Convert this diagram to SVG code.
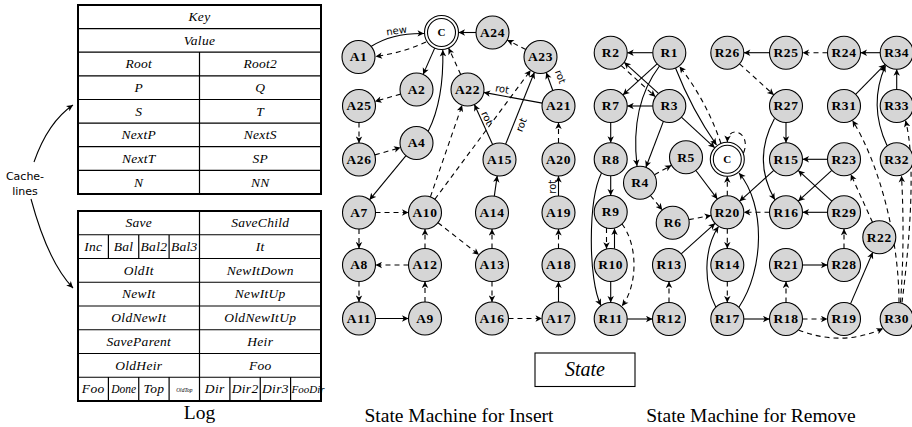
<svg xmlns="http://www.w3.org/2000/svg" width="912" height="427" viewBox="0 0 912 427">
<defs>
<marker id="ah" viewBox="-7 -3.5 8 7" refX="0" refY="0" markerWidth="8" markerHeight="7" markerUnits="userSpaceOnUse" orient="auto">
<path d="M0,0 L-6.5,-3.2 L-4.8,0 L-6.5,3.2 Z" fill="#000"/>
</marker>
</defs>
<style>
.n circle{fill:#d6d6d6;stroke:#000;stroke-width:1.1}
.n text{font-family:"Liberation Serif",serif;font-weight:bold;font-size:13.5px;letter-spacing:0.6px;text-anchor:middle;fill:#000}
.c circle{fill:#fff}
.c text{font-size:11px;letter-spacing:0}
.e{fill:none;stroke:#000;stroke-width:1.1;marker-end:url(#ah)}
.d{stroke-dasharray:5 4}
.lbl{font-family:"DejaVu Sans",sans-serif;font-size:10px;text-anchor:middle;fill:#000}
.tb{font-family:"Liberation Serif",serif;font-style:italic;font-size:13.5px;letter-spacing:0.3px;text-anchor:middle;fill:#000}
.cap{font-family:"Liberation Serif",serif;font-size:19.5px;text-anchor:middle;fill:#000}
.grid{stroke:#000;stroke-width:1.2;fill:none}
.frame{fill:#fff;stroke:#000;stroke-width:2}
</style>
<rect x="0" y="0" width="912" height="427" fill="#fff"/>

<g id="key-table">
<rect class="frame" x="78" y="5" width="243" height="189"/>
<path class="grid" d="M78,28.6H321M78,52.2H321M78,75.9H321M78,99.5H321M78,123.1H321M78,146.7H321M78,170.4H321M199.5,52.2V194"/>
<text class="tb" x="199.5" y="21.1">Key</text>
<text class="tb" x="199.5" y="44.7">Value</text>
<text class="tb" x="138.75" y="68.4">Root</text><text class="tb" x="260.25" y="68.4">Root2</text>
<text class="tb" x="138.75" y="92">P</text><text class="tb" x="260.25" y="92">Q</text>
<text class="tb" x="138.75" y="115.6">S</text><text class="tb" x="260.25" y="115.6">T</text>
<text class="tb" x="138.75" y="139.2">NextP</text><text class="tb" x="260.25" y="139.2">NextS</text>
<text class="tb" x="138.75" y="162.9">NextT</text><text class="tb" x="260.25" y="162.9">SP</text>
<text class="tb" x="138.75" y="186.5">N</text><text class="tb" x="260.25" y="186.5">NN</text>
</g>

<g id="log-table">
<rect class="frame" x="78" y="211" width="243" height="190"/>
<path class="grid" d="M78,234.75H321M78,258.5H321M78,282.25H321M78,306H321M78,329.75H321M78,353.5H321M78,377.25H321M199.5,211V401M108.4,234.75V258.5M138.75,234.75V258.5M169.1,234.75V258.5M108.4,377.25V401M138.75,377.25V401M169.1,377.25V401M229.9,377.25V401M260.25,377.25V401M290.6,377.25V401"/>
<text class="tb" x="138.75" y="227.2">Save</text><text class="tb" x="260.25" y="227.2">SaveChild</text>
<text class="tb" x="93.2" y="250.9">Inc</text><text class="tb" x="123.6" y="250.9">Bal</text><text class="tb" x="153.9" y="250.9">Bal2</text><text class="tb" x="184.3" y="250.9">Bal3</text><text class="tb" x="260.25" y="250.9">It</text>
<text class="tb" x="138.75" y="274.7">OldIt</text><text class="tb" x="260.25" y="274.7">NewItDown</text>
<text class="tb" x="138.75" y="298.4">NewIt</text><text class="tb" x="260.25" y="298.4">NewItUp</text>
<text class="tb" x="138.75" y="322.2">OldNewIt</text><text class="tb" x="260.25" y="322.2">OldNewItUp</text>
<text class="tb" x="138.75" y="345.9">SaveParent</text><text class="tb" x="260.25" y="345.9">Heir</text>
<text class="tb" x="138.75" y="369.7">OldHeir</text><text class="tb" x="260.25" y="369.7">Foo</text>
<text class="tb" x="93.2" y="393.4">Foo</text>
<text class="tb" x="123.6" y="393" style="font-size:11.5px;letter-spacing:0">Done</text>
<text class="tb" x="153.9" y="393.4">Top</text>
<text class="tb" x="184.3" y="391.5" style="font-size:5.5px;letter-spacing:0">OldTop</text>
<text class="tb" x="214.7" y="393.4">Dir</text>
<text class="tb" x="245.1" y="393.4">Dir2</text>
<text class="tb" x="275.4" y="393.4">Dir3</text>
<text class="tb" x="291.5" y="392.8" style="font-size:11px;letter-spacing:0;text-anchor:start">FooDir</text>
</g>

<g id="cache-lines">
<text class="lbl" x="25" y="180" style="font-size:11px">Cache-</text>
<text class="lbl" x="25" y="194.5" style="font-size:11px">lines</text>
<path class="e" d="M34,162 Q48,122 73,105"/>
<path class="e" d="M31,199 Q48,262 73,288"/>
</g>

<g id="captions">
<text class="cap" x="199.5" y="419">Log</text>
<text class="cap" x="459" y="422">State Machine for Insert</text>
<text class="cap" x="751" y="422">State Machine for Remove</text>
</g>

<g id="state-legend">
<rect x="535" y="353" width="100" height="33.5" fill="#fff" stroke="#000" stroke-width="1.1"/>
<text x="585" y="375.5" style="font-family:'Liberation Serif',serif;font-style:italic;font-size:20px;text-anchor:middle">State</text>
</g>

<g id="connectors">
<path class="e" d="M371,46.5 Q392,33 424,33.5"/>
<path class="e d" d="M426,42 Q402,53 375.5,56.5"/>
<path class="e" d="M434.7,48.1 L423.1,74.4"/>
<path class="e" d="M428.2,131.3 Q444,100 442.8,50"/>
<path class="e d" d="M460.7,74.5 L448.6,48"/>
<path class="e" d="M476,32.5 L458.5,32.5"/>
<path class="e d" d="M525.8,49.5 L507.2,40"/>
<path class="e" d="M552.8,90.5 L546.2,72.5"/>
<path class="e" d="M542.3,103.1 L483.7,92.4"/>
<path class="e" d="M492.6,144.5 L474.4,104.5"/>
<path class="e" d="M505.6,144.2 L534.4,72.3"/>
<path class="e d" d="M558.5,143 L558.5,122.5"/>
<path class="e" d="M558.5,196 L558.5,176"/>
<path class="e d" d="M359,122.5 L359,143"/>
<path class="e d" d="M400.6,94.1 L374.9,101.4"/>
<path class="e d" d="M374.9,154.9 L400.6,147.6"/>
<path class="e" d="M406,155.7 L369.5,199.8"/>
<path class="e d" d="M430.4,196.9 L462.1,105.1"/>
<path class="e d" d="M434.8,199.3 L530.7,70.2"/>
<path class="e d" d="M375.5,212.5 L408.5,212.5"/>
<path class="e d" d="M359,229 L359,248.5"/>
<path class="e d" d="M359,281.5 L359,302"/>
<path class="e d" d="M408.5,265 L375.5,265"/>
<path class="e d" d="M425,248.5 L425,229"/>
<path class="e d" d="M425,302 L425,281.5"/>
<path class="e" d="M375.5,318.5 L408.5,318.5"/>
<path class="e d" d="M438,222.7 L479,254.8"/>
<path class="e d" d="M492,248.5 L492,229"/>
<path class="e" d="M494.3,196.2 L497.2,175.8"/>
<path class="e d" d="M492,281.5 L492,302"/>
<path class="e d" d="M508.5,318.5 L542,318.5"/>
<path class="e" d="M558.5,302 L558.5,281.5"/>
<path class="e d" d="M558.5,248.5 L558.5,229"/>
<text class="lbl" x="397" y="34" transform="rotate(-8 397 34)">new</text>
<text class="lbl" x="557.2" y="78" transform="rotate(70 557.2 78)">rot</text>
<text class="lbl" x="501.5" y="92.4" transform="rotate(10.3 501.5 92.4)">rot</text>
<text class="lbl" x="484" y="119.5" transform="rotate(65.4 484 119.5)">rot</text>
<text class="lbl" x="524.5" y="126.1" transform="rotate(-68.2 524.5 126.1)">rot</text>
<text class="lbl" x="556.3" y="186.7" transform="rotate(-90 556.3 186.7)">rot</text>

<path class="e" d="M652.8,52.7 L627.2,52.7"/>
<path class="e" d="M657.1,63.8 L622.9,94.9"/>
<path class="e" d="M659.5,66 Q630,105 637,166"/>
<path class="e" d="M675.5,68 Q692,110 716.5,145"/>
<path class="e d" d="M721,143.5 Q706,100 679.5,66.5"/>
<path class="e" d="M658.4,93.4 L624.2,62.3"/>
<path class="e d" d="M621.2,65.6 L655.4,96.7"/>
<path class="e" d="M652.8,106 L627.2,106"/>
<path class="e" d="M663.4,121.4 L645.9,167.3"/>
<path class="e" d="M681.4,117.2 L714.8,147.8"/>
<path class="e d" d="M743.5,153 C752,132 728,124 727.3,142"/>
<path class="e" d="M610.7,122.5 L610.7,142.8"/>
<path class="e" d="M610.7,175.8 L610.7,195.5"/>
<path class="e d" d="M654.5,174.7 L671.5,165.3"/>
<path class="e d" d="M650.4,195.5 L662.3,209.9"/>
<path class="e" d="M695.9,170.5 L717.4,199.1"/>
<path class="e d" d="M688.9,219.6 L711.1,215.4"/>
<path class="e d" d="M727.3,195.8 L727.3,176.3"/>
<path class="e" d="M739,307 C764,270 766,205 739,173"/>
<path class="e d" d="M769.5,212.3 L743.8,212.3"/>
<path class="e" d="M827.5,212.3 L802.5,212.3"/>
<path class="e" d="M831.8,201.2 L798.2,170.4"/>
<path class="e" d="M827.5,159.3 L802.5,159.3"/>
<path class="e" d="M831.8,170.4 L798.2,201.2"/>
<path class="e" d="M773.8,170.4 L739.5,201.3"/>
<path class="e" d="M786,122.5 L786,142.8"/>
<path class="e" d="M774.5,118.5 Q752,160 774.8,199.8"/>
<path class="e d" d="M739.5,63.8 L773.8,94.9"/>
<path class="e" d="M769.5,52.7 L743.8,52.7"/>
<path class="e d" d="M827.5,52.7 L802.5,52.7"/>
<path class="e" d="M880.2,52.7 L860.5,52.7"/>
<path class="e" d="M855.6,94.3 L885.1,64.4"/>
<path class="e" d="M896.7,89.5 L896.7,69.2"/>
<path class="e" d="M887,145.5 Q868,105 885.5,65.5"/>
<path class="e d" d="M899,302.5 C899,240 880,165 852.5,120.5"/>
<path class="e d" d="M900.5,302.5 Q905,240 901.5,175.8"/>
<path class="e d" d="M902,302.5 C910,240 916,160 905.5,120.5"/>
<path class="e d" d="M872.5,222.3 L850.8,174.3"/>
<path class="e" d="M850.5,303.9 L872.8,252.2"/>
<path class="e d" d="M606.5,228 L606.5,248.7"/>
<path class="e" d="M614.5,248.6 L614.5,228.4"/>
<path class="e d" d="M622,224 C638,245 638,285 622,306"/>
<path class="e" d="M610.7,281.5 L610.7,302.5"/>
<path class="e" d="M601.5,173 C588,200 588,280 601,305.5"/>
<path class="e" d="M627.2,319 L652.5,319"/>
<path class="e d" d="M669,302.5 L669,281.5"/>
<path class="e" d="M681.2,253.9 L715.1,223.3"/>
<path class="e d" d="M727.3,228.8 L727.3,248.5"/>
<path class="e d" d="M727.3,281.5 L727.3,302.5"/>
<path class="e" d="M715.8,307 C704,285 703,250 718.5,226.5"/>
<path class="e" d="M743.8,319 L769.5,319"/>
<path class="e d" d="M786,302.5 L786,281.5"/>
<path class="e" d="M802.5,265 L827.5,265"/>
<path class="e d" d="M844,248.5 L844,228.8"/>
<path class="e d" d="M802.5,319 L827.5,319"/>
<path class="e d" d="M798.5,330 Q842,347 883,328.5"/>
</g>

<g id="C-insert" class="n c"><circle cx="441.5" cy="32.5" r="17"/><circle cx="441.5" cy="32.5" r="14"/><text x="441.5" y="36.2">C</text></g>
<g id="A1" class="n"><circle cx="358.5" cy="57" r="16.5"/><text x="358.5" y="61.4">A1</text></g>
<g id="A2" class="n"><circle cx="416.5" cy="89.5" r="16.5"/><text x="416.5" y="93.9">A2</text></g>
<g id="A4" class="n"><circle cx="416.5" cy="143" r="16.5"/><text x="416.5" y="147.4">A4</text></g>
<g id="A7" class="n"><circle cx="359" cy="212.5" r="16.5"/><text x="359" y="216.9">A7</text></g>
<g id="A8" class="n"><circle cx="359" cy="265" r="16.5"/><text x="359" y="269.4">A8</text></g>
<g id="A9" class="n"><circle cx="425" cy="318.5" r="16.5"/><text x="425" y="322.9">A9</text></g>
<g id="A10" class="n"><circle cx="425" cy="212.5" r="16.5"/><text x="425" y="216.9">A10</text></g>
<g id="A11" class="n"><circle cx="359" cy="318.5" r="16.5"/><text x="359" y="322.9">A11</text></g>
<g id="A12" class="n"><circle cx="425" cy="265" r="16.5"/><text x="425" y="269.4">A12</text></g>
<g id="A13" class="n"><circle cx="492" cy="265" r="16.5"/><text x="492" y="269.4">A13</text></g>
<g id="A14" class="n"><circle cx="492" cy="212.5" r="16.5"/><text x="492" y="216.9">A14</text></g>
<g id="A15" class="n"><circle cx="499.5" cy="159.5" r="16.5"/><text x="499.5" y="163.9">A15</text></g>
<g id="A16" class="n"><circle cx="492" cy="318.5" r="16.5"/><text x="492" y="322.9">A16</text></g>
<g id="A17" class="n"><circle cx="558.5" cy="318.5" r="16.5"/><text x="558.5" y="322.9">A17</text></g>
<g id="A18" class="n"><circle cx="558.5" cy="265" r="16.5"/><text x="558.5" y="269.4">A18</text></g>
<g id="A19" class="n"><circle cx="558.5" cy="212.5" r="16.5"/><text x="558.5" y="216.9">A19</text></g>
<g id="A20" class="n"><circle cx="558.5" cy="159.5" r="16.5"/><text x="558.5" y="163.9">A20</text></g>
<g id="A21" class="n"><circle cx="558.5" cy="106" r="16.5"/><text x="558.5" y="110.4">A21</text></g>
<g id="A22" class="n"><circle cx="467.5" cy="89.5" r="16.5"/><text x="467.5" y="93.9">A22</text></g>
<g id="A23" class="n"><circle cx="540.5" cy="57" r="16.5"/><text x="540.5" y="61.4">A23</text></g>
<g id="A24" class="n"><circle cx="492.5" cy="32.5" r="16.5"/><text x="492.5" y="36.9">A24</text></g>
<g id="A25" class="n"><circle cx="359" cy="106" r="16.5"/><text x="359" y="110.4">A25</text></g>
<g id="A26" class="n"><circle cx="359" cy="159.5" r="16.5"/><text x="359" y="163.9">A26</text></g>

<g id="C-remove" class="n c"><circle cx="727.3" cy="159.3" r="17"/><circle cx="727.3" cy="159.3" r="14"/><text x="727.3" y="163">C</text></g>
<g id="R1" class="n"><circle cx="669.3" cy="52.7" r="16.5"/><text x="669.3" y="57.1">R1</text></g>
<g id="R2" class="n"><circle cx="610.7" cy="52.7" r="16.5"/><text x="610.7" y="57.1">R2</text></g>
<g id="R3" class="n"><circle cx="669.3" cy="106" r="16.5"/><text x="669.3" y="110.4">R3</text></g>
<g id="R4" class="n"><circle cx="640" cy="182.7" r="16.5"/><text x="640" y="187.1">R4</text></g>
<g id="R5" class="n"><circle cx="686" cy="157.3" r="16.5"/><text x="686" y="161.7">R5</text></g>
<g id="R6" class="n"><circle cx="672.7" cy="222.7" r="16.5"/><text x="672.7" y="227.1">R6</text></g>
<g id="R7" class="n"><circle cx="610.7" cy="106" r="16.5"/><text x="610.7" y="110.4">R7</text></g>
<g id="R8" class="n"><circle cx="610.7" cy="159.3" r="16.5"/><text x="610.7" y="163.7">R8</text></g>
<g id="R9" class="n"><circle cx="610.7" cy="212" r="16.5"/><text x="610.7" y="216.4">R9</text></g>
<g id="R10" class="n"><circle cx="610.7" cy="265" r="16.5"/><text x="610.7" y="269.4">R10</text></g>
<g id="R11" class="n"><circle cx="610.7" cy="319" r="16.5"/><text x="610.7" y="323.4">R11</text></g>
<g id="R12" class="n"><circle cx="669" cy="319" r="16.5"/><text x="669" y="323.4">R12</text></g>
<g id="R13" class="n"><circle cx="669" cy="265" r="16.5"/><text x="669" y="269.4">R13</text></g>
<g id="R14" class="n"><circle cx="727.3" cy="265" r="16.5"/><text x="727.3" y="269.4">R14</text></g>
<g id="R15" class="n"><circle cx="786" cy="159.3" r="16.5"/><text x="786" y="163.7">R15</text></g>
<g id="R16" class="n"><circle cx="786" cy="212.3" r="16.5"/><text x="786" y="216.7">R16</text></g>
<g id="R17" class="n"><circle cx="727.3" cy="319" r="16.5"/><text x="727.3" y="323.4">R17</text></g>
<g id="R18" class="n"><circle cx="786" cy="319" r="16.5"/><text x="786" y="323.4">R18</text></g>
<g id="R19" class="n"><circle cx="844" cy="319" r="16.5"/><text x="844" y="323.4">R19</text></g>
<g id="R20" class="n"><circle cx="727.3" cy="212.3" r="16.5"/><text x="727.3" y="216.7">R20</text></g>
<g id="R21" class="n"><circle cx="786" cy="265" r="16.5"/><text x="786" y="269.4">R21</text></g>
<g id="R22" class="n"><circle cx="879.3" cy="237.3" r="16.5"/><text x="879.3" y="241.7">R22</text></g>
<g id="R23" class="n"><circle cx="844" cy="159.3" r="16.5"/><text x="844" y="163.7">R23</text></g>
<g id="R24" class="n"><circle cx="844" cy="52.7" r="16.5"/><text x="844" y="57.1">R24</text></g>
<g id="R25" class="n"><circle cx="786" cy="52.7" r="16.5"/><text x="786" y="57.1">R25</text></g>
<g id="R26" class="n"><circle cx="727.3" cy="52.7" r="16.5"/><text x="727.3" y="57.1">R26</text></g>
<g id="R27" class="n"><circle cx="786" cy="106" r="16.5"/><text x="786" y="110.4">R27</text></g>
<g id="R28" class="n"><circle cx="844" cy="265" r="16.5"/><text x="844" y="269.4">R28</text></g>
<g id="R29" class="n"><circle cx="844" cy="212.3" r="16.5"/><text x="844" y="216.7">R29</text></g>
<g id="R30" class="n"><circle cx="896.7" cy="319" r="16.5"/><text x="896.7" y="323.4">R30</text></g>
<g id="R31" class="n"><circle cx="844" cy="106" r="16.5"/><text x="844" y="110.4">R31</text></g>
<g id="R32" class="n"><circle cx="896.7" cy="159.3" r="16.5"/><text x="896.7" y="163.7">R32</text></g>
<g id="R33" class="n"><circle cx="896.7" cy="106" r="16.5"/><text x="896.7" y="110.4">R33</text></g>
<g id="R34" class="n"><circle cx="896.7" cy="52.7" r="16.5"/><text x="896.7" y="57.1">R34</text></g>
</svg>
